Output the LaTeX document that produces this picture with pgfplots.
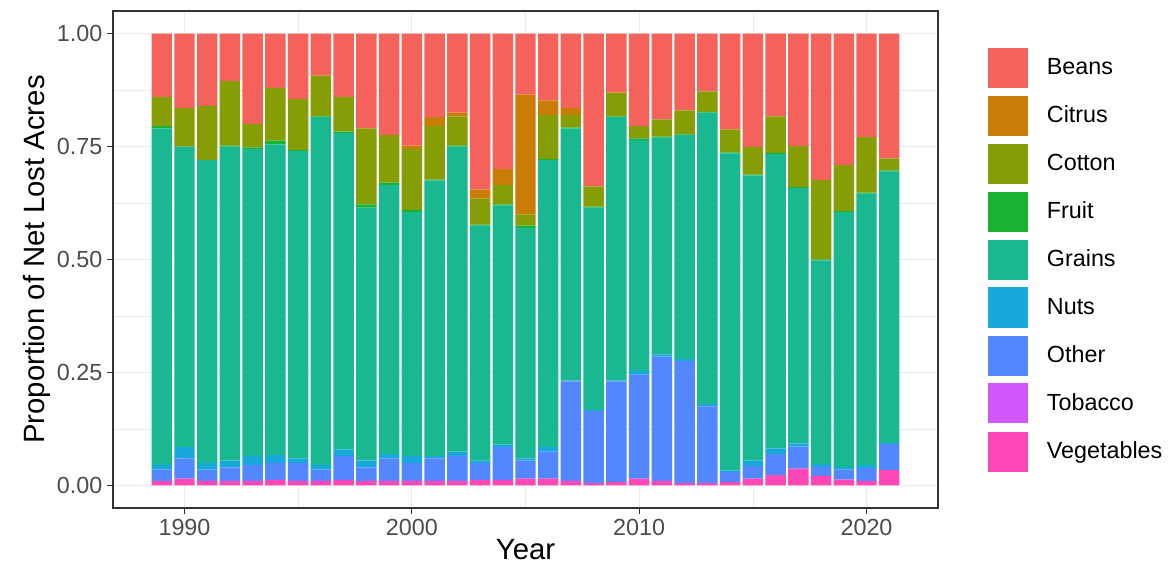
\documentclass[border=0pt]{standalone}
\usepackage{pgfplots}
\usepackage{pgfplotstable}
\usepackage{fontspec}
\setmainfont{Liberation Sans}
\pgfplotsset{compat=1.18}
\definecolor{cBeans}{HTML}{F5625C}
\definecolor{cCitrus}{HTML}{C97D06}
\definecolor{cCotton}{HTML}{869D06}
\definecolor{cFruit}{HTML}{19B232}
\definecolor{cGrains}{HTML}{1AB890}
\definecolor{cNuts}{HTML}{17A9D9}
\definecolor{cOther}{HTML}{5287FF}
\definecolor{cTob}{HTML}{D257FA}
\definecolor{cVeg}{HTML}{FF47B8}
\pgfplotstableread{
year veg tob other nuts grains fruit cotton citrus beans
1989 .01 0 .025 .01 .745 .005 .065 0 .14
1990 .015 0 .045 .025 .665 0 .085 0 .165
1991 .01 0 .025 .015 .67 0 .12 0 .16
1992 .01 0 .03 .015 .695 .002 .143 0 .105
1993 .01 0 .035 .02 .68 .003 .052 0 .20
1994 .012 0 .038 .017 .688 .008 .117 0 .12
1995 .01 0 .04 .01 .68 .002 .113 0 .145
1996 .01 0 .025 .01 .77 .002 .09 0 .093
1997 .012 0 .053 .015 .70 .003 .077 0 .14
1998 .01 0 .03 .015 .56 .007 .168 0 .21
1999 .01 0 .05 .01 .595 .005 .105 0 .225
2000 .01 0 .04 .015 .54 .005 .135 .007 .248
2001 .01 0 .05 .005 .61 .002 .118 .02 .185
2002 .01 0 .055 .01 .675 .002 .065 .008 .175
2003 .012 0 .038 .005 .52 .002 .058 .02 .345
2004 .012 0 .073 .005 .53 .002 .043 .035 .30
2005 .015 0 .04 .005 .51 .005 .025 .265 .135
2006 .015 0 .06 .01 .635 .002 .098 .032 .148
2007 .01 0 .22 .002 .558 .002 .028 .015 .165
2008 .005 0 .16 .002 .448 .002 .045 0 .338
2009 .008 0 .222 .002 .583 .002 .051 .002 .13
2010 .015 0 .23 .008 .512 .003 .027 0 .205
2011 .01 0 .275 .005 .48 .002 .038 0 .19
2012 .005 0 .27 .005 .495 .002 .053 0 .17
2013 .005 0 .17 .005 .645 .002 .045 0 .128
2014 .008 0 .022 .003 .702 .002 .051 0 .212
2015 .015 0 .028 .012 .631 .002 .061 0 .251
2016 .023 0 .046 .013 .652 .002 .081 0 .183
2017 .037 0 .049 .007 .565 .002 .091 0 .249
2018 .021 0 .02 .006 .451 .002 .176 0 .324
2019 .013 0 .022 .006 .564 .002 .102 0 .291
2020 .01 0 .028 .007 .601 .002 .123 0 .229
2021 .034 0 .058 .002 .601 .002 .027 0 .276
}\data
\begin{document}
\begin{tikzpicture}[x=0.75pt,y=0.75pt]
\useasboundingbox (-113,-67) rectangle (1062,508);
\begin{axis}[
  at={(0,0)}, anchor=south west,
  scale only axis, width=618.75pt, height=372.75pt,
  ybar stacked, bar width=0.9,
  xmin=1986.855, xmax=2023.145, ymin=-0.05, ymax=1.05,
  xtick={1990,2000,2010,2020}, minor xtick={1995,2005,2015},
  ytick={0,0.25,0.5,0.75,1}, minor ytick={0.125,0.375,0.625,0.875},
  yticklabels={0.00,0.25,0.50,0.75,1.00},
  xtick pos=bottom, ytick pos=left,
  /pgf/number format/assume math mode=true,
  xticklabel style={/pgf/number format/1000 sep=},
  grid=both,
  major grid style={color=black!8, line width=0.8pt},
  minor grid style={color=black!8, line width=0.4pt},
  axis line style={color=black!80, line width=0.8pt},
  tick style={color=black!80, line width=0.8pt},
  tick align=outside, major tick length=4.5pt, minor tick length=0pt,
  ticklabel style={font=\fontsize{17.5}{20}\selectfont, color=black!70},
  xlabel={Year}, ylabel={Proportion of Net Lost Acres},
  label style={font=\fontsize{22}{26}\selectfont},
  xlabel style={yshift=4pt}, ylabel style={yshift=-2pt},
  reverse legend,
  legend style={at={(1.0606,0.5)}, anchor=west, draw=none, fill=none,
    font=\fontsize{17.5}{20}\selectfont, row sep=6pt, inner sep=0pt,
    /tikz/every odd column/.append style={column sep=12pt}},
  legend cell align=left,
  legend image code/.code={\fill[#1] (0pt,-15pt) rectangle (30pt,15pt);},
]
\addplot[fill=cVeg, draw=none] table[x=year,y=veg]{\data}; \addlegendentry{Vegetables}
\addplot[fill=cTob, draw=none] table[x=year,y=tob]{\data}; \addlegendentry{Tobacco}
\addplot[fill=cOther, draw=none] table[x=year,y=other]{\data}; \addlegendentry{Other}
\addplot[fill=cNuts, draw=none] table[x=year,y=nuts]{\data}; \addlegendentry{Nuts}
\addplot[fill=cGrains, draw=none] table[x=year,y=grains]{\data}; \addlegendentry{Grains}
\addplot[fill=cFruit, draw=none] table[x=year,y=fruit]{\data}; \addlegendentry{Fruit}
\addplot[fill=cCotton, draw=none] table[x=year,y=cotton]{\data}; \addlegendentry{Cotton}
\addplot[fill=cCitrus, draw=none] table[x=year,y=citrus]{\data}; \addlegendentry{Citrus}
\addplot[fill=cBeans, draw=none] table[x=year,y=beans]{\data}; \addlegendentry{Beans}
\end{axis}
\end{tikzpicture}
\end{document}
